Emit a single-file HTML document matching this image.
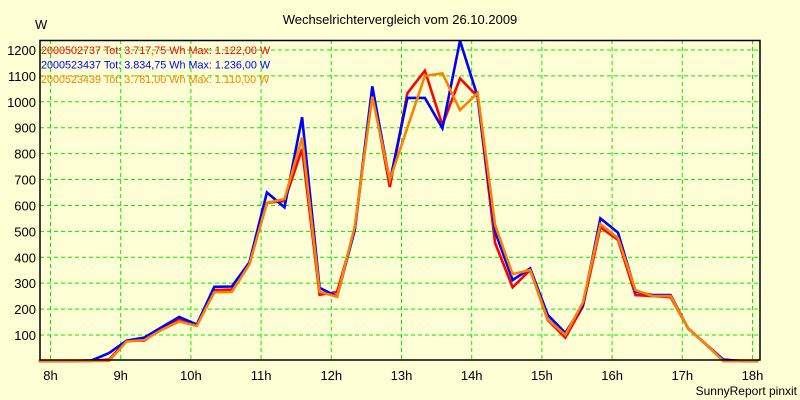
<!DOCTYPE html>
<html><head><meta charset="utf-8"><style>
body{margin:0;background:#ffffd6;}
svg{display:block;font-family:"Liberation Sans",sans-serif;}
</style></head><body>
<svg id="chart" width="800" height="400" viewBox="0 0 800 400" xmlns="http://www.w3.org/2000/svg">
<rect x="0" y="0" width="800" height="400" fill="#ffffd6"/>
<text x="400" y="24" font-size="13" text-anchor="middle" fill="#000">Wechselrichtervergleich vom 26.10.2009</text>
<text x="35" y="29" font-size="13" fill="#000">W</text>
<text x="797" y="395" font-size="12" text-anchor="end" fill="#000">SunnyReport pinxit</text>
<g id="grid"></g>
<g id="series"></g>
<g id="axes"></g>
<g id="legend"></g>
</svg>
<script>
const startMin = 7*60+50, stepMin = 15;
const yTicks = [100,200,300,400,500,600,700,800,900,1000,1100,1200];
const xTickHours = [8,9,10,11,12,13,14,15,16,17,18];
const seriesNames = ["2000502737","2000523437","2000523439"];
const seriesColors = ["#ff0000","#0000ff","#ff8000"];
const legendTexts = ["2000502737 Tot: 3.717,75 Wh Max: 1.122,00 W","2000523437 Tot: 3.834,75 Wh Max: 1.236,00 W","2000523439 Tot: 3.781,00 Wh Max: 1.110,00 W"];
const red =    [0,0,0,0,5,78,78,125,160,138,273,275,375,610,617,818,255,266,505,1040,671,1033,1120,910,1090,1020,455,284,351,158,90,210,516,467,254,250,246,126,65,0,0,0];
const blue =   [0,0,0,2,30,78,90,130,170,140,286,287,380,650,593,940,282,248,505,1060,692,1015,1015,898,1236,1020,499,312,357,177,108,215,550,495,267,254,254,126,65,5,0,0];
const orange = [0,0,0,0,0,75,80,120,152,135,265,266,372,610,625,862,267,247,518,1020,698,900,1100,1110,968,1034,525,335,351,160,100,225,528,474,273,250,250,126,65,0,0,0];

const L=40,R=760,T=40,B=360;
const xOfMin = m => 50.5 + 70.2*(m-480)/60;
const y = v => 360.9 - v*0.2591;
const NS="http://www.w3.org/2000/svg";
function mk(tag, parent){const e=document.createElementNS(NS,tag);parent.appendChild(e);return e;}
const grid=document.getElementById('grid'), axes=document.getElementById('axes'), ser=document.getElementById('series'), leg=document.getElementById('legend');

yTicks.forEach(v=>{
  const l=mk('line',grid);
  
  
  l.setAttribute('x1',L);l.setAttribute('x2',R);l.setAttribute('y1',y(v));l.setAttribute('y2',y(v));
  l.setAttribute('stroke','#00ee00');l.setAttribute('stroke-dasharray','4,3');
  const t=mk('text',axes);
  
  
  t.setAttribute('x',36);t.setAttribute('y',y(v)+5);t.setAttribute('font-size','13');t.setAttribute('text-anchor','end');
  t.textContent=v;
});
xTickHours.forEach(h=>{
  const x=xOfMin(h*60);
  const l=mk('line',grid);
  
  
  l.setAttribute('x1',x);l.setAttribute('x2',x);l.setAttribute('y1',T);l.setAttribute('y2',B);
  l.setAttribute('stroke','#00ee00');l.setAttribute('stroke-dasharray','4,3');
  const t=mk('text',axes);
  
  
  t.setAttribute('x',x);t.setAttribute('y',380);t.setAttribute('font-size','13');t.setAttribute('text-anchor','middle');
  t.textContent=h+'h';
});
const frame=mk('rect',axes);


frame.setAttribute('x',L);frame.setAttribute('y',T+0.5);frame.setAttribute('width',R-L);frame.setAttribute('height',B-T-0.5);
frame.setAttribute('fill','none');frame.setAttribute('stroke','#000');frame.setAttribute('stroke-width','1.5');

[red,blue,orange].forEach((arr,i)=>{
  const p=mk('polyline',ser);
  
  
  p.setAttribute('points',arr.map((v,k)=>xOfMin(startMin+k*stepMin).toFixed(1)+','+y(v).toFixed(1)).join(' '));
  p.setAttribute('fill','none');p.setAttribute('stroke',seriesColors[i]);p.setAttribute('stroke-width','2.6');p.setAttribute('stroke-linejoin','miter');
  const t=mk('text',leg);
  
  
  t.setAttribute('x',41);t.setAttribute('y',54+i*14.5);t.setAttribute('font-size','10.8');t.setAttribute('fill',seriesColors[i]);
  t.textContent=legendTexts[i];
});
</script>
</body></html>
